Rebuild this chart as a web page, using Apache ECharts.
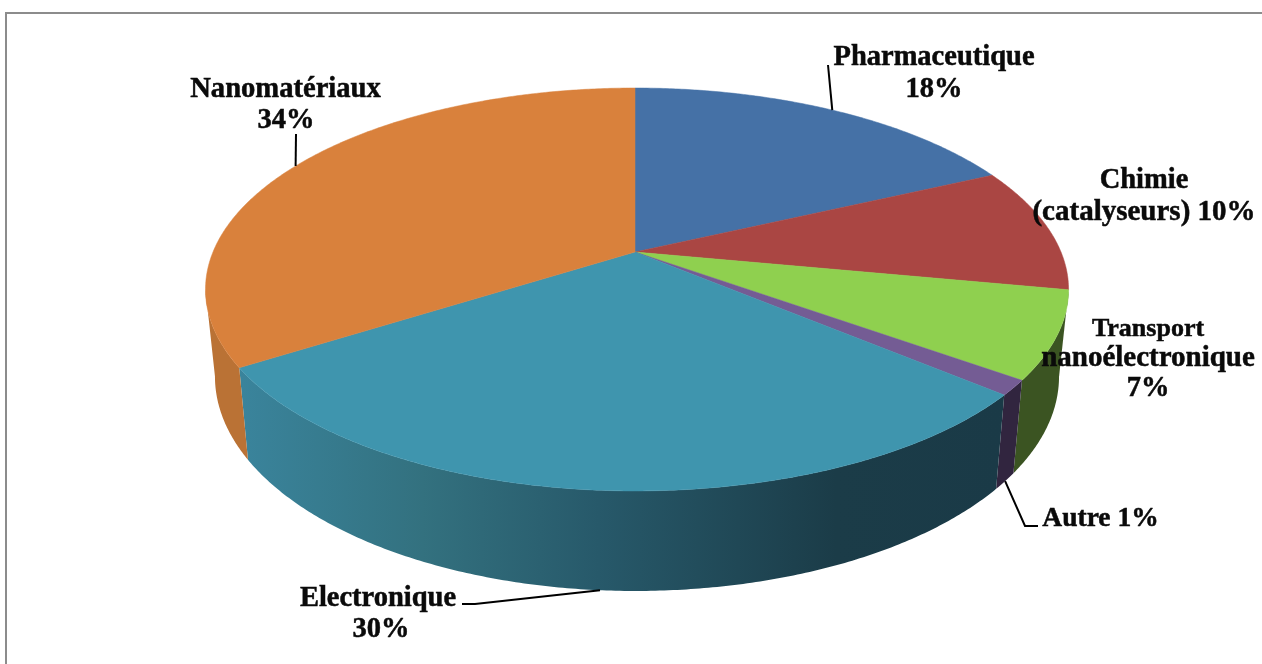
<!DOCTYPE html>
<html>
<head>
<meta charset="utf-8">
<style>
	html, body { margin: 0; padding: 0; background: #fff; }
	#chart { width: 1262px; height: 664px; }
</style>
<script src="https://cdn.jsdelivr.net/npm/echarts@6/dist/echarts.min.js"></script>
</head>
<body>
<div id="chart"></div>
<script>
var categories = ['Pharmaceutique', 'Chimie (catalyseurs)', 'Transport nanoélectronique', 'Autre', 'Electronique', 'Nanomatériaux'];
var values = [18, 10, 7, 1.2, 29.8, 34];
var sliceColors = ['#4571a6', '#aa4643', '#8fd04f', '#745c94', '#3f95ae', '#d9813c'];
var wallColors = ['#2f4d70', '#72302d', '#3b5422', '#31253f', null, '#ba7235'];
var labelLines = [
	['Pharmaceutique', '18%'],
	['Chimie', '(catalyseurs) 10%'],
	['Transport', 'nanoélectronique', '7%'],
	['Autre 1%'],
	['Electronique', '30%'],
	['Nanomatériaux', '34%']
];

//label placement, centre of each text line
var labelX = [[934, 934], [1144, 1144], [1148, 1148, 1148], [1100.5], [378, 381], [285.5, 286]];
var labelY = [[58, 90], [181, 213], [329, 359, 389], [519], [599, 630], [90, 121]];
var labelSize = [[28.5, 28.5], [28.5, 29], [26, 29, 28.5], [27.5], [28.5, 28.5], [28.6, 28.5]];
//leader line, from rim to label. null = no leader
var leaderPoints = [
	[[828, 65]],
	null,
	null,
	[[1025, 526], [1038, 526]],
	[[475, 604], [462, 604]],
	[[296, 134]]
];

//pie geometry, perspective view of a circle. left half is a bit narrower
var PIE = { x: 635, y: 252, a: 426, aLeft: 422, b: 194.5, p: 0.186 };
//lower rim relative to upper rim
var DEPTH = { sx: 0.978, sy: 1.065, dy: 84.5 };
//angle where rim is widest, wall is only seen between these
var WALL_FROM = 100.7;
var WALL_TO = 259.3;

var total = values.reduce(function(s, v) { return s + v; }, 0);
var FONT = '"Liberation Serif", serif';

function _top(deg) {
	var r = deg * Math.PI / 180;
	var u = Math.sin(r);
	var v = -Math.cos(r);
	var f = 1 - PIE.p * v;
	var a = u < 0 ? PIE.aLeft : PIE.a;
	return [PIE.x + a * u / f, PIE.y + PIE.b * v / f];
}

function _bottom(deg) {
	var t = _top(deg);
	return [PIE.x + DEPTH.sx * (t[0] - PIE.x), PIE.y + DEPTH.dy + DEPTH.sy * (t[1] - PIE.y)];
}

function _arc(fn, from, to) {
	var pts = [];
	var n = Math.max(2, Math.ceil(Math.abs(to - from) * 2));
	for(var i = 0; i <= n; i++) {
		pts.push(fn(from + (to - from) * i / n));
	}
	return pts;
}

function _angles(idx) {
	var before = 0;
	for(var i = 0; i < idx; i++) {
		before += values[i];
	}
	return [before / total * 360, (before + values[idx]) / total * 360];
}

function _wallFill(idx) {
	if(wallColors[idx]) {
		return wallColors[idx];
	}
	return new echarts.graphic.LinearGradient(0, 0, 1, 0, [
		{ offset: 0, color: '#3a849c' },
		{ offset: 0.24, color: '#33717f' },
		{ offset: 0.47, color: '#27596a' },
		{ offset: 0.78, color: '#1b3c48' },
		{ offset: 1, color: '#1a3a47' }
	]);
}

function renderWall(params, api) {
	var ang = _angles(params.dataIndex);
	var from = Math.max(ang[0], WALL_FROM);
	var to = Math.min(ang[1], WALL_TO);
	if(from >= to) {
		return { type: 'group', children: [] };
	}
	var pts = _arc(_top, from, to).concat(_arc(_bottom, to, from));
	return {
		type: 'polygon',
		shape: { points: pts },
		style: { fill: _wallFill(params.dataIndex) }
	};
}

function renderSlice(params, api) {
	var ang = _angles(params.dataIndex);
	var color = sliceColors[params.dataIndex];
	return {
		type: 'polygon',
		shape: { points: [[PIE.x, PIE.y]].concat(_arc(_top, ang[0], ang[1])) },
		style: { fill: color, stroke: color, lineWidth: 0.5 }
	};
}

function renderLabel(params, api) {
	var idx = params.dataIndex;
	var children = [];
	if(leaderPoints[idx]) {
		var ang = _angles(idx);
		var mid = (ang[0] + ang[1]) / 2;
		//front slices hang the leader on the lower rim
		var start = (mid > WALL_FROM && mid < WALL_TO) ? _bottom(mid) : _top(mid);
		children.push({
			type: 'polyline',
			shape: { points: [start].concat(leaderPoints[idx]) },
			style: { stroke: '#000', lineWidth: 2, fill: null }
		});
	}
	labelLines[idx].forEach(function(line, i) {
		children.push({
			type: 'text',
			style: {
				text: line,
				x: labelX[idx][i],
				y: labelY[idx][i],
				textAlign: 'center',
				textVerticalAlign: 'middle',
				font: 'bold ' + labelSize[idx][i] + 'px ' + FONT,
				fill: '#0a0a0a',
				stroke: '#0a0a0a',
				lineWidth: 0.5
			}
		});
	});
	return { type: 'group', children: children };
}

var chart = echarts.init(document.getElementById('chart'));
chart.setOption({
	animation: false,
	backgroundColor: '#fff',
	graphic: [{
		type: 'polyline',
		shape: { points: [[6, 664], [6, 13], [1262, 13]] },
		style: { stroke: '#8c8c8c', lineWidth: 2, fill: null },
		silent: true
	}],
	series: [
		{ type: 'custom', coordinateSystem: 'none', z: 1, silent: true, data: values, renderItem: renderWall },
		{ type: 'custom', coordinateSystem: 'none', z: 2, silent: true, data: values, renderItem: renderSlice },
		{ type: 'custom', coordinateSystem: 'none', z: 3, silent: true, data: values, renderItem: renderLabel }
	]
});
</script>
</body>
</html>
